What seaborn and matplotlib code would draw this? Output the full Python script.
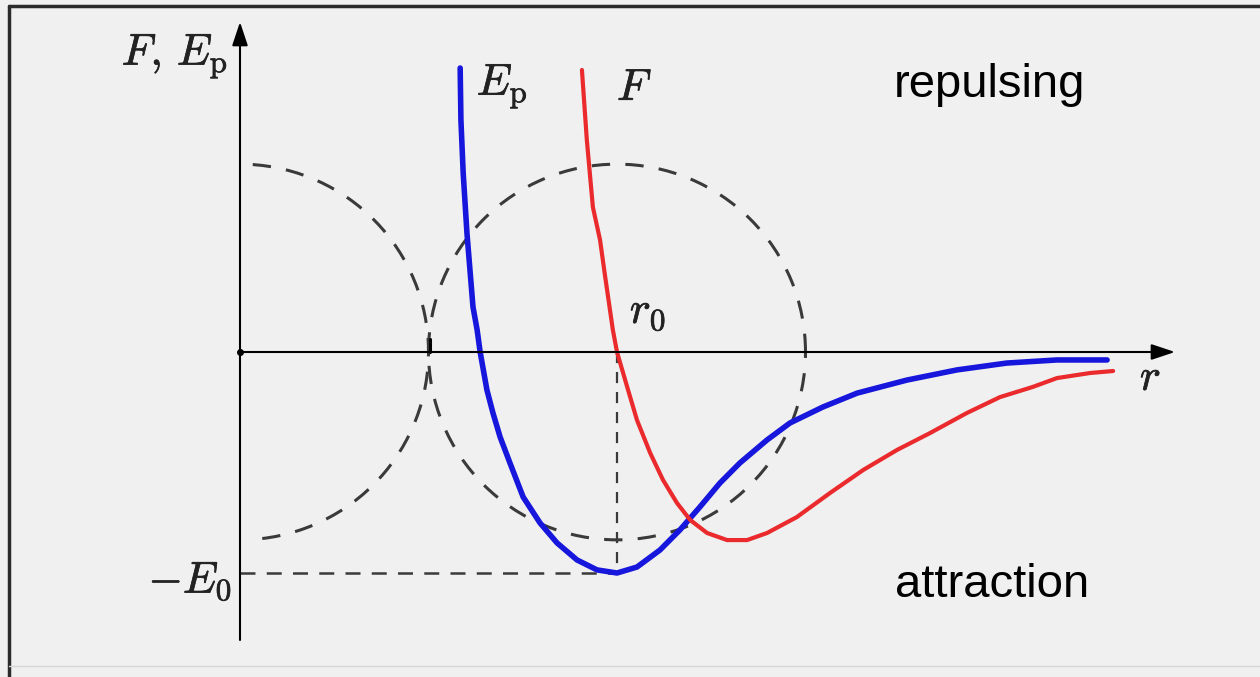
import matplotlib
matplotlib.use("Agg")
import matplotlib.pyplot as plt
import matplotlib.patheffects as pe
import seaborn as sns
from matplotlib.patches import Arc
from matplotlib.lines import Line2D

# r in units of r0, energy / force in units of E0
ep_r = [0.584, 0.586, 0.592, 0.602, 0.618, 0.629, 0.637, 0.655, 0.671, 0.690,
        0.716, 0.751, 0.796, 0.841, 0.894, 0.947, 1.000, 1.053, 1.114, 1.167,
        1.220, 1.273, 1.326, 1.398, 1.459, 1.546, 1.637, 1.769, 1.902, 2.034,
        2.167, 2.300]
ep_v = [1.285, 1.050, 0.810, 0.538, 0.204, 0.100, 0.000, -0.172, -0.276, -0.385,
        -0.502, -0.656, -0.774, -0.864, -0.941, -0.986, -1.000, -0.973, -0.896, -0.805,
        -0.701, -0.593, -0.502, -0.398, -0.321, -0.249, -0.186, -0.127, -0.081, -0.050,
        -0.036, -0.036]

f_r = [0.907, 0.920, 0.936, 0.955, 0.968, 0.989, 1.000, 1.027, 1.053, 1.088,
       1.122, 1.159, 1.194, 1.239, 1.292, 1.345, 1.398, 1.477, 1.565, 1.653,
       1.743, 1.830, 1.928, 2.016, 2.103, 2.167, 2.255, 2.316]
f_v = [1.276, 0.959, 0.656, 0.507, 0.348, 0.100, 0.000, -0.158, -0.308, -0.457,
       -0.579, -0.683, -0.760, -0.819, -0.851, -0.851, -0.819, -0.747, -0.638, -0.534,
       -0.443, -0.367, -0.276, -0.204, -0.158, -0.118, -0.095, -0.086]

r0 = 1.0
e0 = 1.0
cusp_r = 0.504          # where the two dashed circles touch
circ_rx = 0.5           # dashed circle radius along r
circ_ry = 0.85          # dashed circle radius along F, Ep

PX_R = 377.0
PX_E = 221.0

sns.set_theme(style="white")
plt.rcParams["mathtext.fontset"] = "cm"
plt.rcParams["font.family"] = ["Liberation Sans", "DejaVu Sans"]

bg = "#f0f0f0"
fig = plt.figure(figsize=(12.6, 6.77), dpi=100, facecolor=bg)
ax = fig.add_axes([0, 0, 1, 1])
ax.set_facecolor(bg)
ax.set_xlim(-240 / PX_R, (1260 - 240) / PX_R)
ax.set_ylim(-(677 - 352) / PX_E, 352 / PX_E)
ax.axis("off")

# frame of the picture
fig.add_artist(Line2D([9 / 1260, 9 / 1260], [0, 1 - 6 / 677], color="#2b2b2b", lw=2.5))
fig.add_artist(Line2D([9 / 1260, 1], [1 - 6 / 677, 1 - 6 / 677], color="#2b2b2b", lw=2.5))
fig.add_artist(Line2D([9 / 1260, 1], [1 - 666 / 677, 1 - 666 / 677], color="#d6d6d6", lw=1))

dash = (0, (6, 5))
grey = "#3a3a3a"

# dashed construction circles
ax.add_patch(Arc((0, 0), 2 * circ_rx, 2 * circ_ry, theta1=-86, theta2=90,
                 color=grey, lw=2.2, linestyle=dash))
ax.add_patch(Arc((r0, 0), 2 * circ_rx, 2 * circ_ry, theta1=0, theta2=360,
                 color=grey, lw=2.2, linestyle=dash))
ax.plot([0, r0], [-e0, -e0], color=grey, lw=1.8, linestyle=(0, (6, 4.5)))
ax.plot([r0, r0], [0, -e0], color=grey, lw=1.6, linestyle=(0, (5, 4)))

# axes with arrows
arrow = dict(arrowstyle="-|>,head_length=0.6,head_width=0.2", color="black",
             lw=1.5, mutation_scale=24, shrinkA=0, shrinkB=0)
ax.annotate("", xy=(0, 330 / PX_E), xytext=(0, -(640 - 352) / PX_E), arrowprops=arrow)
ax.annotate("", xy=((1175 - 240) / PX_R, 0), xytext=(0, 0), arrowprops=arrow)
ax.plot([0], [0], "o", color="black", ms=4)
ax.plot([cusp_r, cusp_r], [0, 0.06], color="black", lw=2.2)

# curves
sns.lineplot(x=ep_r, y=ep_v, sort=False, estimator=None, color="#1616dc",
             linewidth=4.0, ax=ax, solid_capstyle="round", solid_joinstyle="round")
sns.lineplot(x=f_r, y=f_v, sort=False, estimator=None, color="#ea2a2c",
             linewidth=3.0, ax=ax, solid_capstyle="round", solid_joinstyle="round")

# labels
mfs = 32
bold = [pe.withStroke(linewidth=0.5, foreground="#222222")]
labels = [
    (-0.032, 1.299, r"$F,\,E_{\rm p}$", "right"),
    (0.628, 1.163, r"$E_{\rm p}$", "left"),
    (1.0, 1.14, r"$F$", "left"),
    (1.034, 0.131, r"$r_0$", "left"),
    (-0.021, -1.09, r"$-E_0$", "right"),
    (2.387, -0.172, r"$r$", "left"),
]
for x, y, s, ha in labels:
    ax.text(x, y, s, fontsize=mfs, ha=ha, va="baseline", color="#222222",
            path_effects=bold)

ax.text(1.989, 1.154, "repulsing", fontsize=34, ha="center", va="baseline",
        color="black")
ax.text(1.995, -1.109, "attraction", fontsize=34, ha="center", va="baseline",
        color="black")

fig.savefig("out.png", dpi=100, facecolor=bg)
